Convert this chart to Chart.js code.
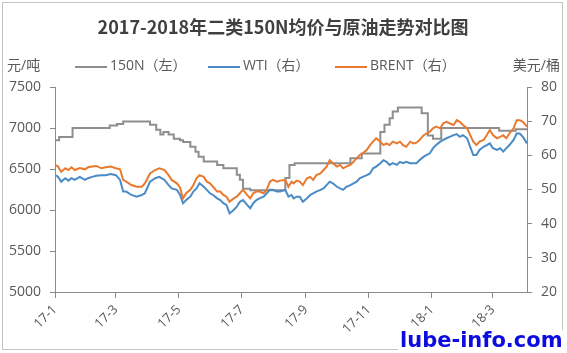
<!DOCTYPE html>
<html>
<head>
<meta charset="utf-8">
<script src="https://cdn.jsdelivr.net/npm/chart.js@4.4.1/dist/chart.umd.min.js"></script>
<style>
  html, body { margin: 0; padding: 0; background: #fff; }
  #wrap { position: relative; width: 567px; height: 353px; overflow: hidden; }
  #frame { position: absolute; left: 2px; top: 2px; width: 559px; height: 346px; border: 1px solid #c2c2c2; }
  #chart { position: absolute; left: 0; top: 0; }
  #site {
    position: absolute; left: 398px; top: 330px; width: 169px; height: 23px;
    background: #fff; color: #0c0ce0; font: bold 21px "DejaVu Sans", sans-serif; line-height: 21px;
    padding-left: 2px;
  }
</style>
</head>
<body>
<div id="wrap">
  <div id="frame"></div>
  <canvas id="chart" width="567" height="353"></canvas>
  <div id="site">lube-info.com</div>
</div>
<script>
// 横轴：距 2017-01-01 的天数
const oilDays = [1, 3, 6, 10, 13, 16, 19, 24, 29, 32, 36, 40, 45, 49, 54, 59, 63, 66, 69, 74, 79, 84, 87, 92, 97, 101, 106, 110, 113, 118,
  121, 124, 127, 131, 134, 137, 140, 144, 147, 150, 153, 157, 160, 163, 166, 169, 173, 176, 179, 182, 186, 189, 192, 195, 198, 202, 205, 208, 211, 215,
  218, 223, 226, 229, 231, 234, 237, 240, 244, 247, 250, 253, 257, 260, 263, 266, 269, 273, 276, 279, 282, 286, 289, 292, 295, 298, 302, 305, 308, 311,
  315, 318, 321, 324, 327, 331, 334, 337, 340, 344, 347, 350, 353, 357, 360, 363, 366, 369, 373, 376, 379, 382, 386, 389, 392, 395, 399, 402, 405, 408,
  411, 415, 418, 421, 424, 428, 431, 434, 437, 440, 444, 447, 450, 453, 457];

// WTI（右轴，美元/桶）
const wti = [54.2, 53.7, 52.3, 53.3, 52.6, 53.3, 52.8, 53.7, 52.8, 53.3, 53.7, 54.0, 54.2, 54.2, 54.5, 54.2, 52.8, 49.4, 49.4, 48.4, 47.9, 48.4, 48.9, 52.3, 53.3, 53.7, 52.8, 51.3, 50.3, 49.9,
  48.5, 46.0, 46.9, 47.9, 49.4, 50.3, 51.8, 50.8, 49.9, 48.9, 48.4, 47.4, 46.9, 46.0, 45.5, 43.0, 44.0, 45.0, 46.4, 46.9, 45.5, 44.5, 46.0, 46.9, 47.4, 47.9, 48.9, 49.9, 49.9, 49.4,
  49.4, 49.9, 47.9, 48.4, 47.4, 47.9, 47.9, 46.4, 47.4, 48.4, 48.9, 49.4, 49.9, 50.3, 51.3, 52.3, 51.8, 50.8, 50.3, 49.9, 50.8, 51.3, 51.8, 52.3, 53.3, 53.7, 54.2, 54.7, 56.2, 56.7,
  57.7, 58.6, 58.1, 57.2, 57.7, 57.2, 58.1, 57.7, 58.1, 57.7, 57.7, 57.7, 58.6, 59.6, 60.1, 60.6, 62.1, 63.0, 64.0, 64.5, 65.0, 65.4, 65.9, 66.2, 65.4, 65.9, 65.0, 62.5, 60.1, 60.1,
  61.6, 62.5, 63.0, 63.5, 62.1, 61.6, 62.1, 61.1, 62.1, 63.0, 64.5, 66.4, 66.4, 65.4, 63.5];

// BRENT（右轴，美元/桶）
const brent = [57.2, 56.7, 55.2, 56.2, 55.7, 56.5, 55.7, 56.3, 55.9, 56.5, 56.7, 56.9, 56.2, 56.5, 56.7, 56.2, 55.9, 52.8, 52.3, 51.3, 50.8, 50.8, 51.8, 54.7, 55.7, 56.2, 55.7, 54.2, 52.8, 51.8,
  50.6, 47.4, 48.9, 49.9, 51.3, 53.3, 54.2, 53.7, 52.3, 51.8, 50.8, 49.4, 49.4, 48.4, 47.9, 46.4, 47.4, 47.9, 48.9, 49.9, 48.4, 47.4, 48.9, 49.4, 49.4, 48.9, 49.9, 52.3, 52.8, 52.3,
  52.6, 52.8, 50.8, 52.3, 51.8, 52.6, 52.3, 51.3, 53.3, 53.7, 52.8, 54.2, 54.7, 55.7, 56.7, 58.6, 57.7, 56.7, 57.2, 56.2, 56.7, 57.2, 58.1, 59.1, 60.1, 60.6, 61.6, 63.0, 64.0, 65.0,
  64.0, 63.0, 63.5, 63.0, 64.0, 63.5, 64.0, 63.0, 62.5, 64.0, 63.5, 63.7, 64.5, 65.9, 66.4, 66.9, 67.9, 68.4, 67.9, 69.4, 69.8, 69.4, 68.9, 70.3, 69.8, 68.9, 67.9, 65.9, 64.0, 63.0,
  64.0, 64.5, 65.9, 67.4, 65.9, 65.0, 65.4, 65.9, 65.0, 66.4, 67.9, 70.3, 70.3, 69.8, 68.4];

// 二类150N均价（左轴，元/吨），调价日及调价后价格
const baseDays = [0, 4, 17, 53, 60, 66, 92, 98, 102, 105, 110, 115, 121, 124, 131, 136, 139, 144, 157, 163, 176, 179, 182, 189,
  223, 227, 232, 286, 297, 315, 319, 324, 327, 332, 355, 361, 366, 374, 430, 446, 457];
const base150N = [6850, 6890, 7000, 7030, 7050, 7080, 7040, 6980, 6920, 6950, 6920, 6870, 6850, 6830, 6770, 6710, 6650, 6590, 6550, 6510, 6430, 6370, 6260, 6240,
  6390, 6550, 6570, 6630, 6690, 6950, 7040, 7120, 7200, 7250, 7180, 6910, 6870, 7000, 6965, 6985, 6985];

const xTickDays = [0, 59, 120, 181, 243, 304, 365, 424];
const xTickLabels = ['17-1', '17-3', '17-5', '17-7', '17-9', '17-11', '18-1', '18-3'];
const leftTicks = [5000, 5500, 6000, 6500, 7000, 7500];
const rightTicks = [20, 30, 40, 50, 60, 70, 80];

const seriesNames = ['150N（左）', 'WTI（右）', 'BRENT（右）'];
const seriesColors = ['#8e8e8e', '#4a8bc6', '#e8792e'];

const axisColor = '#8a8a8a';
const textColor = '#595959';
const fontFamily = '"Open Sans", "Noto Sans CJK SC", sans-serif';

Chart.defaults.font.family = fontFamily;
Chart.defaults.font.size = 14;
Chart.defaults.color = textColor;

const toPoints = (xs, ys) => xs.map((x, i) => ({ x: x, y: ys[i] }));

// 标题、单位和图例
const headerPlugin = {
  id: 'header',
  afterDraw(chart) {
    const ctx = chart.ctx;
    ctx.save();
    ctx.textBaseline = 'middle';
    ctx.fillStyle = '#404040';
    ctx.font = 'bold 18px "Noto Sans CJK SC", sans-serif';
    ctx.textAlign = 'center';
    ctx.fillText('2017-2018年二类150N均价与原油走势对比图', 283, 27);

    ctx.fillStyle = textColor;
    ctx.font = '14px ' + fontFamily;
    ctx.textAlign = 'left';
    ctx.fillText('元/吨', 7, 66);
    ctx.textAlign = 'right';
    ctx.fillText('美元/桶', 560, 66);

    const lineX = [75, 208, 335];
    ctx.textAlign = 'left';
    ctx.lineWidth = 2;
    seriesNames.forEach((name, i) => {
      ctx.strokeStyle = seriesColors[i];
      ctx.beginPath();
      ctx.moveTo(lineX[i], 67);
      ctx.lineTo(lineX[i] + 32, 67);
      ctx.stroke();
      ctx.fillText(name, lineX[i] + 35, 66);
    });
    ctx.restore();
  }
};

const chart = new Chart(document.getElementById('chart'), {
  type: 'line',
  data: {
    datasets: [
      {
        label: seriesNames[0],
        data: toPoints(baseDays, base150N),
        yAxisID: 'y',
        borderColor: seriesColors[0],
        borderWidth: 2,
        stepped: true,
        order: 3
      },
      {
        label: seriesNames[1],
        data: toPoints(oilDays, wti),
        yAxisID: 'y1',
        borderColor: seriesColors[1],
        borderWidth: 2,
        order: 2
      },
      {
        label: seriesNames[2],
        data: toPoints(oilDays, brent),
        yAxisID: 'y1',
        borderColor: seriesColors[2],
        borderWidth: 2,
        order: 1
      }
    ]
  },
  options: {
    responsive: false,
    animation: false,
    layout: { padding: { top: 87, left: 0, right: 0, bottom: 0 } },
    elements: { point: { radius: 0 }, line: { tension: 0 } },
    plugins: {
      legend: { display: false },
      title: { display: false },
      tooltip: { enabled: false }
    },
    scales: {
      x: {
        type: 'linear',
        min: 0,
        max: 457,
        afterBuildTicks: s => { s.ticks = xTickDays.map(v => ({ value: v })); },
        afterFit: s => { s.height = 61; },
        ticks: {
          autoSkip: false,
          minRotation: 45,
          maxRotation: 45,
          padding: 4,
          font: { size: 13 },
          callback: (v, i) => xTickLabels[i]
        },
        grid: { drawOnChartArea: false, tickLength: 6, color: axisColor },
        border: { color: axisColor }
      },
      y: {
        position: 'left',
        min: 5000,
        max: 7500,
        afterBuildTicks: s => { s.ticks = leftTicks.map(v => ({ value: v })); },
        afterFit: s => { s.width = 55; },
        ticks: { padding: 9, callback: v => String(v) },
        grid: { drawOnChartArea: false, tickLength: 5, color: axisColor },
        border: { color: axisColor }
      },
      y1: {
        position: 'right',
        min: 20,
        max: 80,
        afterBuildTicks: s => { s.ticks = rightTicks.map(v => ({ value: v })); },
        afterFit: s => { s.width = 40; },
        ticks: { padding: 9, callback: v => String(v) },
        grid: { drawOnChartArea: false, tickLength: 5, color: axisColor },
        border: { color: axisColor }
      }
    }
  },
  plugins: [headerPlugin]
});
</script>
</body>
</html>
